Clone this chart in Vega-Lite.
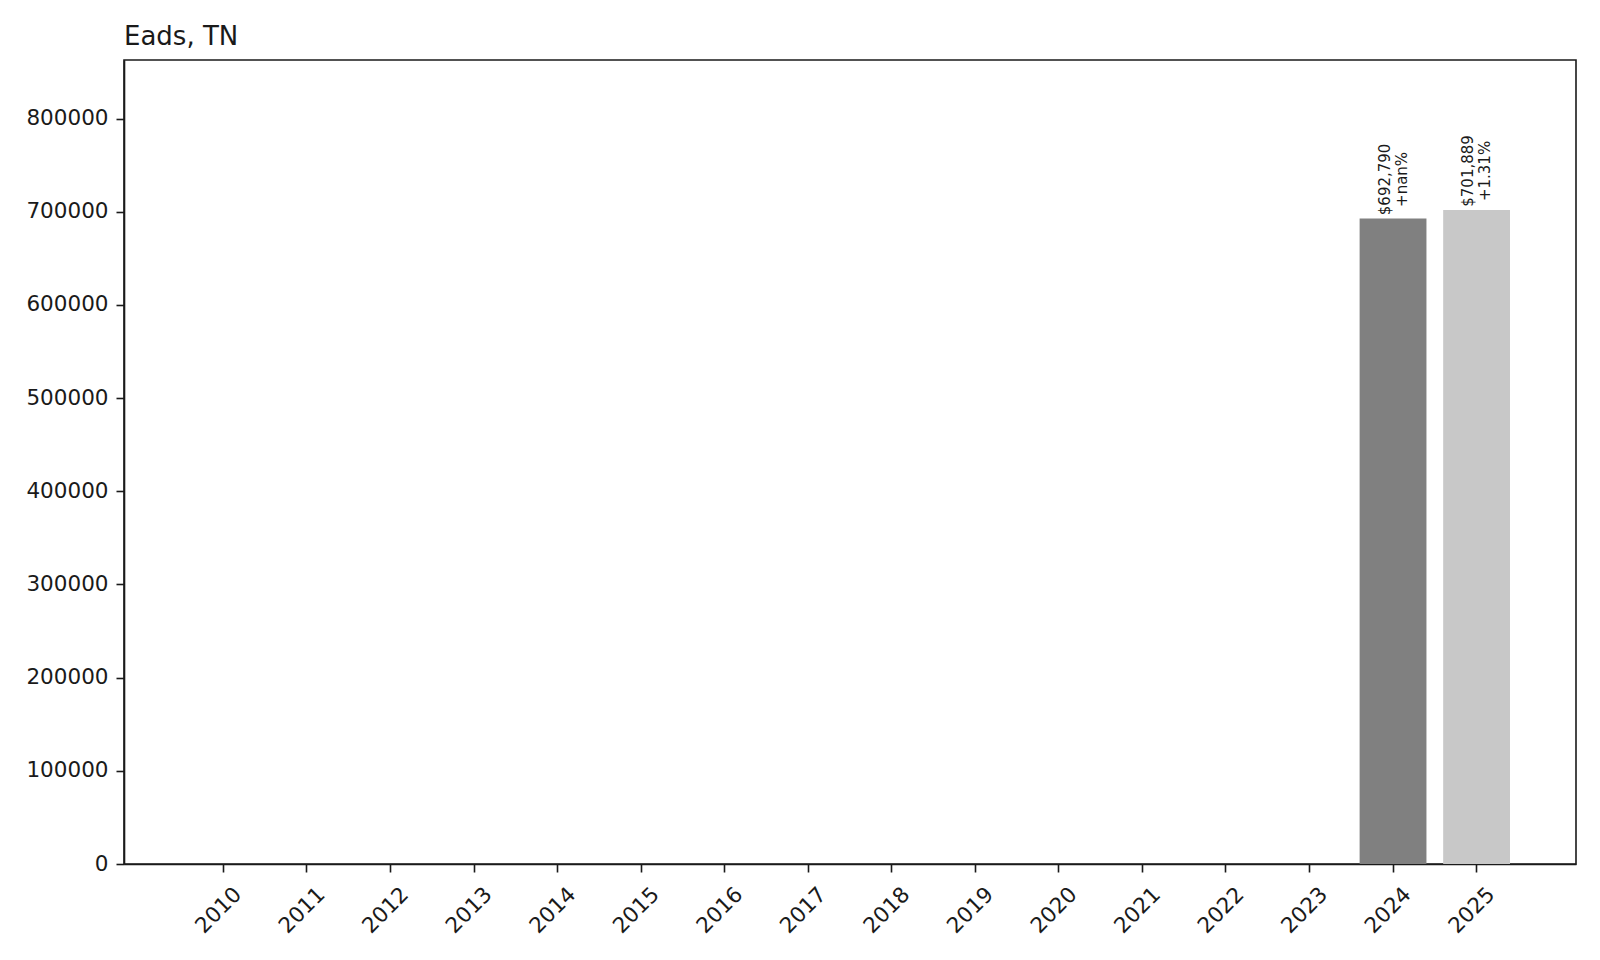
{
  "$schema": "https://vega.github.io/schema/vega-lite/v6.json",
  "width": 1452,
  "height": 804,
  "autosize": {"type": "none"},
  "padding": {"left": 124, "top": 60, "right": 24, "bottom": 96},
  "background": "white",
  "title": {
    "text": "Eads, TN",
    "anchor": "start",
    "frame": "group",
    "fontSize": 26,
    "fontWeight": "normal",
    "font": "DejaVu Sans",
    "color": "#1a1a1a",
    "offset": 10
  },
  "data": {
    "values": [
      {"year": "2010", "value": 0, "label": ""},
      {"year": "2011", "value": 0, "label": ""},
      {"year": "2012", "value": 0, "label": ""},
      {"year": "2013", "value": 0, "label": ""},
      {"year": "2014", "value": 0, "label": ""},
      {"year": "2015", "value": 0, "label": ""},
      {"year": "2016", "value": 0, "label": ""},
      {"year": "2017", "value": 0, "label": ""},
      {"year": "2018", "value": 0, "label": ""},
      {"year": "2019", "value": 0, "label": ""},
      {"year": "2020", "value": 0, "label": ""},
      {"year": "2021", "value": 0, "label": ""},
      {"year": "2022", "value": 0, "label": ""},
      {"year": "2023", "value": 0, "label": ""},
      {"year": "2024", "value": 692790, "label": "$692,790\n+nan%"},
      {"year": "2025", "value": 701889, "label": "$701,889\n+1.31%"}
    ]
  },
  "encoding": {
    "x": {
      "field": "year",
      "type": "ordinal",
      "title": null,
      "scale": {"paddingInner": 0.2, "paddingOuter": 0.79},
      "axis": {
        "labelAngle": -45,
        "labelAlign": "right",
        "labelBaseline": "middle",
        "labelFontSize": 21.5,
        "labelFont": "DejaVu Sans",
        "labelColor": "#1a1a1a",
        "labelOffset": 15,
        "tickColor": "#1a1a1a",
        "tickSize": 8,
        "tickWidth": 1.6,
        "labelPadding": 19,
        "domainColor": "#1a1a1a",
        "domainWidth": 1.6
      }
    },
    "y": {
      "field": "value",
      "type": "quantitative",
      "title": null,
      "scale": {"domain": [0, 862800], "nice": false},
      "axis": {
        "values": [0, 100000, 200000, 300000, 400000, 500000, 600000, 700000, 800000],
        "format": "d",
        "grid": false,
        "labelFontSize": 21.5,
        "labelFont": "DejaVu Sans",
        "labelColor": "#1a1a1a",
        "tickColor": "#1a1a1a",
        "tickSize": 8,
        "tickWidth": 1.6,
        "labelPadding": 8,
        "domainColor": "#1a1a1a",
        "domainWidth": 1.6
      }
    }
  },
  "layer": [
    {
      "mark": {"type": "bar"},
      "encoding": {
        "color": {
          "condition": {"test": "datum.year == '2025'", "value": "#c8c8c8"},
          "value": "#808080"
        }
      }
    },
    {
      "mark": {
        "type": "text",
        "angle": 270,
        "align": "center",
        "baseline": "middle",
        "lineBreak": "\n",
        "lineHeight": 17,
        "fontSize": 15,
        "font": "DejaVu Sans",
        "color": "#1a1a1a",
        "dx": 39,
        "dy": -8.5
      },
      "encoding": {"text": {"field": "label"}}
    }
  ],
  "config": {
    "view": {"stroke": "#1a1a1a", "strokeWidth": 1.6}
  }
}
